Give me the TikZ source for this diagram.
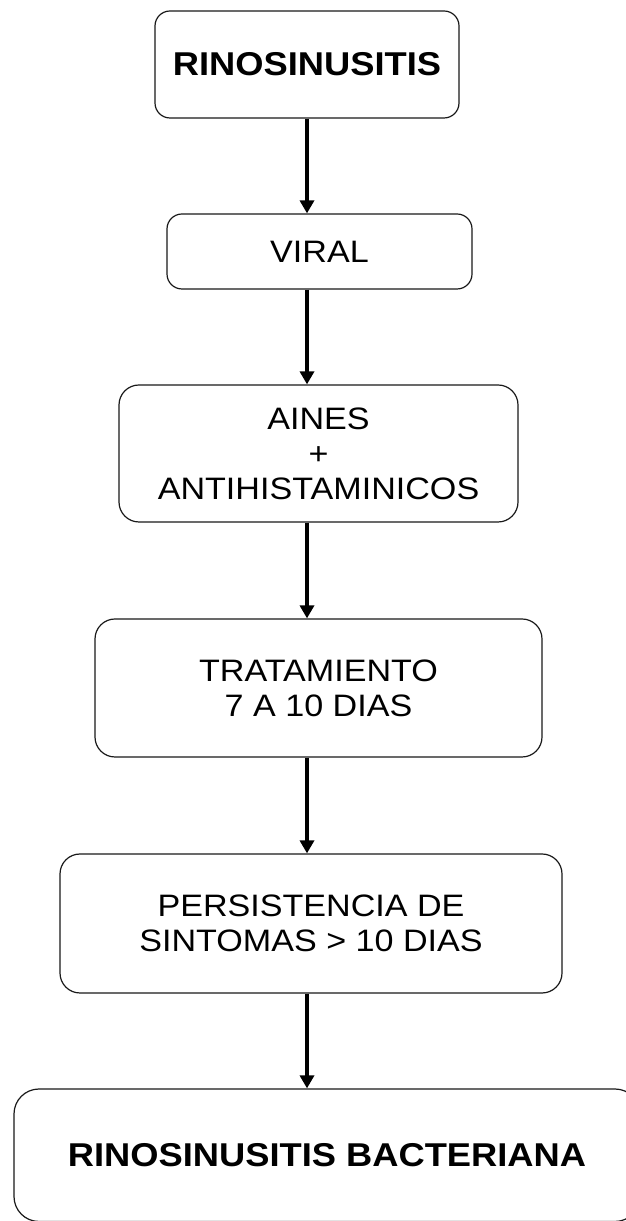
\documentclass[tikz,border=0pt]{standalone}
\usepackage{fontspec}
\setmainfont[FakeStretch=1.1]{Liberation Sans}
\usetikzlibrary{arrows.meta}
\tikzset{
  flowbox/.style={draw=black!90, line width=1.2pt, inner sep=0pt, align=center,
    font=\fontsize{31}{35}\selectfont},
  titlebox/.style={flowbox, font=\fontsize{33}{38}\selectfont\bfseries},
  flowarrow/.style={line width=3.4pt, -{Triangle[width=14pt,length=13pt]}}
}
\begin{document}
\begin{tikzpicture}[x=1pt,y=1pt]
\useasboundingbox (0,0) rectangle (626,1221);
\node[titlebox, rounded corners=15pt, minimum width=304pt, minimum height=107pt] (b1) at (307,1156.5) {RINOSINUSITIS};
\node[flowbox, rounded corners=15pt, minimum width=305pt, minimum height=75pt] (b2) at (319.5,969.5) {VIRAL};
\node[flowbox, rounded corners=20pt, minimum width=399pt, minimum height=137pt] (b3) at (318.5,767.5) {AINES\\+\\ANTIHISTAMINICOS};
\node[flowbox, rounded corners=20pt, minimum width=447pt, minimum height=138pt] (b4) at (318.5,533) {TRATAMIENTO\\7 A 10 DIAS};
\node[flowbox, rounded corners=20pt, minimum width=502pt, minimum height=139pt] (b5) at (311,297.5) {PERSISTENCIA DE\\SINTOMAS > 10 DIAS};
\node[titlebox, rounded corners=25pt, minimum width=626pt, minimum height=132.5pt] (b6) at (327,65.75) {RINOSINUSITIS BACTERIANA};
\coordinate (ax) at (307,0);
\draw[flowarrow] (b1.south -| ax) -- (b2.north -| ax);
\draw[flowarrow] (b2.south -| ax) -- (b3.north -| ax);
\draw[flowarrow] (b3.south -| ax) -- (b4.north -| ax);
\draw[flowarrow] (b4.south -| ax) -- (b5.north -| ax);
\draw[flowarrow] (b5.south -| ax) -- (b6.north -| ax);
\end{tikzpicture}
\end{document}
